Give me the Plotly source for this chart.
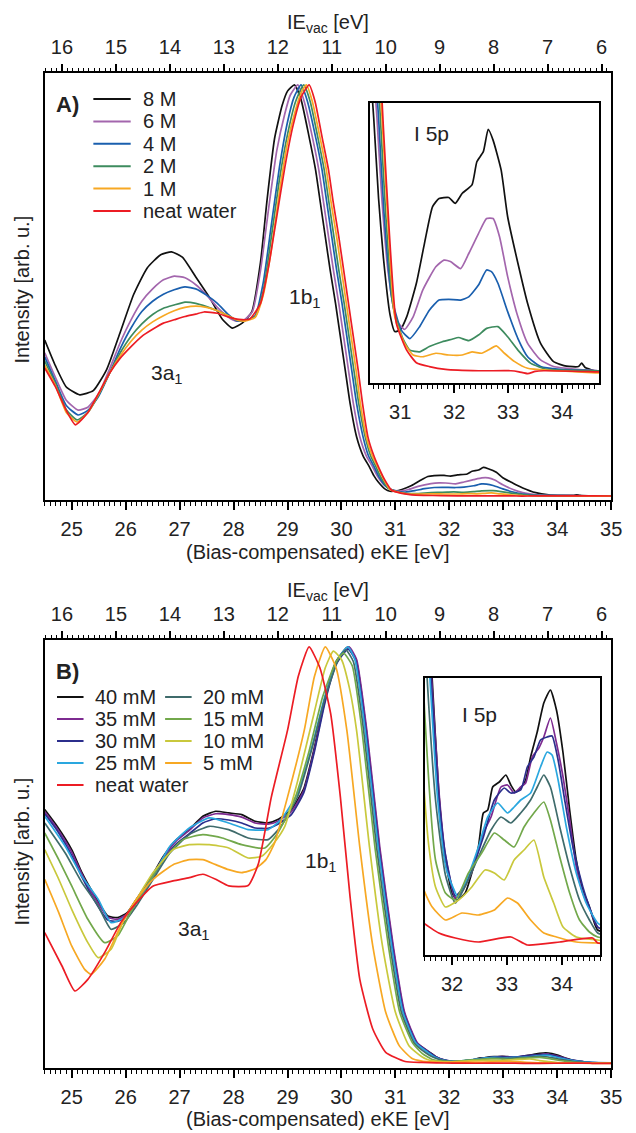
import plotly.graph_objects as go

# ---------------- DATA (eKE [eV], normalized intensity) ----------------
PHOTON_ENERGY = 40.82  # IE_vac = hv - eKE

# Panel A: NaI concentration series
A_8M = [(24.5,.381),(24.7,.318),(24.9,.267),(25.15,.248),(25.4,.258),(25.65,.31),(25.9,.40),(26.15,.492),
        (26.4,.556),(26.65,.588),(26.85,.595),(27.05,.582),(27.3,.534),(27.55,.485),(27.8,.43),(27.98,.41),
        (28.16,.422),(28.34,.45),(28.5,.57),(28.62,.72),(28.76,.87),(28.9,.95),(29.0,.985),(29.13,1.0),
        (29.25,.965),(29.4,.874),(29.52,.794),(29.61,.713),(29.7,.632),(29.79,.551),(29.89,.47),(29.98,.389),
        (30.07,.308),(30.16,.227),(30.28,.146),(30.4,.10),(30.51,.075),(30.6,.052),(30.69,.035),(30.81,.019),
        (30.9,.014),(31.0,.0145),(31.12,.0182),(31.3,.0278),(31.45,.0392),(31.6,.0497),(31.72,.052),(31.9,.0523),
        (32.02,.0506),(32.15,.0535),(32.33,.0559),(32.42,.0625),(32.54,.0654),(32.63,.0718),(32.72,.0687),
        (32.87,.0601),(32.99,.0468),(33.18,.0335),(33.36,.022),(33.6,.0106),(33.84,.0054),(34.08,.0041),
        (34.3,.004),(34.36,.005),(34.42,.0038),(34.66,.0025),(35.0,.002)]
A_6M = [(24.5,.35),(24.7,.29),(24.9,.235),(25.12,.211),(25.3,.218),(25.5,.25),(25.7,.31),(25.9,.375),(26.1,.43),
        (26.3,.475),(26.5,.505),(26.7,.527),(26.9,.536),(27.1,.532),(27.3,.515),(27.5,.49),(27.7,.46),(27.9,.437),
        (28.05,.427),(28.2,.43),(28.35,.45),(28.5,.55),(28.65,.70),(28.8,.84),(28.95,.93),(29.05,.975),(29.19,1.0),
        (29.31,.96),(29.46,.874),(29.58,.794),(29.67,.713),(29.76,.632),(29.85,.551),(29.95,.47),(30.04,.389),
        (30.13,.308),(30.22,.227),(30.34,.146),(30.46,.10),(30.57,.075),(30.66,.052),(30.78,.0306),(30.93,.0173),
        (31.08,.0146),(31.24,.0182),(31.42,.0259),(31.66,.0325),(31.81,.0344),(31.93,.034),(32.12,.032),
        (32.27,.0363),(32.45,.042),(32.6,.0463),(32.72,.0463),(32.84,.0411),(32.99,.0297),(33.18,.0182),
        (33.36,.0106),(33.6,.0059),(33.84,.004),(34.27,.0032),(34.66,.0028),(35.0,.0025)]
A_4M = [(24.5,.34),(24.7,.28),(24.9,.222),(25.12,.199),(25.3,.21),(25.5,.245),(25.7,.30),(25.9,.36),(26.1,.41),
        (26.3,.45),(26.5,.475),(26.7,.492),(26.9,.503),(27.1,.51),(27.3,.505),(27.5,.49),(27.7,.47),(27.9,.443),
        (28.05,.428),(28.2,.428),(28.4,.44),(28.55,.52),(28.7,.66),(28.85,.80),(29.0,.91),(29.12,.97),(29.25,1.0),
        (29.37,.96),(29.52,.874),(29.64,.794),(29.73,.713),(29.82,.632),(29.91,.551),(30.01,.47),(30.1,.389),
        (30.19,.308),(30.28,.227),(30.4,.146),(30.5,.10),(30.6,.075),(30.7,.048),(30.84,.024),(31.02,.0144),
        (31.18,.012),(31.36,.0154),(31.54,.0201),(31.72,.023),(31.9,.0232),(32.12,.023),(32.27,.0239),
        (32.45,.0273),(32.6,.0316),(32.69,.0311),(32.81,.0278),(32.99,.0197),(33.18,.012),(33.36,.0068),
        (33.6,.004),(33.96,.0032),(34.66,.0028),(35.0,.0025)]
A_2M = [(24.5,.33),(24.7,.275),(24.9,.212),(25.1,.187),(25.3,.205),(25.5,.248),(25.7,.30),(25.9,.35),(26.1,.39),
        (26.3,.42),(26.5,.443),(26.7,.458),(26.9,.466),(27.1,.473),(27.3,.47),(27.5,.462),(27.7,.452),(27.9,.44),
        (28.05,.43),(28.2,.428),(28.4,.438),(28.55,.50),(28.7,.63),(28.85,.77),(29.0,.88),(29.15,.96),(29.3,1.0),
        (29.42,.96),(29.56,.874),(29.68,.794),(29.77,.713),(29.86,.632),(29.95,.551),(30.05,.47),(30.14,.389),
        (30.23,.308),(30.32,.227),(30.44,.146),(30.54,.10),(30.63,.076),(30.73,.048),(30.87,.0211),(31.05,.012),
        (31.18,.0087),(31.36,.0082),(31.54,.0097),(31.78,.0111),(31.96,.0118),(32.08,.0123),(32.27,.0114),
        (32.45,.013),(32.6,.0149),(32.81,.0154),(32.99,.0125),(33.18,.0087),(33.42,.0049),(33.72,.0032),
        (34.66,.0028),(35.0,.0025)]
A_1M = [(24.5,.32),(24.7,.27),(24.9,.205),(25.1,.182),(25.3,.205),(25.5,.25),(25.7,.30),(25.9,.343),(26.1,.378),
        (26.3,.405),(26.5,.425),(26.7,.44),(26.9,.452),(27.1,.46),(27.3,.463),(27.5,.46),(27.7,.452),(27.9,.44),
        (28.05,.43),(28.2,.427),(28.4,.436),(28.55,.49),(28.7,.60),(28.85,.74),(29.0,.86),(29.15,.94),(29.25,.98),
        (29.35,1.0),(29.46,.96),(29.6,.874),(29.72,.794),(29.81,.713),(29.91,.632),(30.0,.551),(30.09,.47),
        (30.18,.389),(30.27,.308),(30.35,.227),(30.46,.146),(30.57,.10),(30.66,.076),(30.77,.046),(30.9,.0182),
        (31.08,.0106),(31.24,.0073),(31.42,.0068),(31.66,.0078),(31.9,.0073),(32.15,.0073),(32.33,.0082),
        (32.51,.0078),(32.63,.0087),(32.78,.0099),(32.93,.0078),(33.12,.0054),(33.36,.0035),(34.66,.0022),(35.0,.002)]
A_WATER = [(24.5,.313),(24.7,.267),(24.9,.21),(25.07,.175),(25.3,.205),(25.5,.252),(25.7,.30),(25.9,.337),
           (26.1,.365),(26.3,.39),(26.5,.407),(26.7,.422),(26.9,.43),(27.1,.438),(27.3,.444),(27.45,.449),
           (27.7,.446),(27.9,.437),(28.1,.431),(28.3,.432),(28.5,.47),(28.65,.56),(28.8,.68),(28.95,.80),(29.1,.90),
           (29.25,.97),(29.4,1.0),(29.51,.96),(29.64,.874),(29.76,.794),(29.85,.713),(29.95,.632),(30.04,.551),
           (30.13,.47),(30.22,.389),(30.31,.308),(30.39,.227),(30.49,.146),(30.6,.10),(30.69,.072),(30.8,.042),
           (30.93,.0163),(31.12,.0087),(31.3,.0051),(31.54,.004),(31.84,.0032),(32.45,.0028),(33.05,.0028),
           (33.2,.0025),(33.36,.002),(33.5,.0026),(33.66,.0028),(34.66,.0025),(35.0,.0024)]

A_LABELS = ["8 M", "6 M", "4 M", "2 M", "1 M", "neat water"]
A_COLORS = ["#111111", "#a366ad", "#1a5fae", "#3d8b5e", "#f7a823", "#ec1c24"]

# Panel B: mM concentration series
B_40 = [(24.5,.61),(24.73,.57),(25.0,.514),(25.19,.459),(25.43,.403),(25.67,.355),(25.85,.351),(26.03,.363),
        (26.2,.395),(26.45,.443),(26.7,.498),(26.94,.538),(27.18,.562),(27.43,.594),(27.67,.606),(27.91,.602),
        (28.15,.598),(28.4,.582),(28.64,.578),(28.82,.586),(29.07,.61),(29.3,.66),(29.5,.76),(29.7,.88),
        (29.9,.965),(30.12,1.0),(30.27,.97),(30.46,.80),(30.7,.52),(30.95,.283),(31.16,.124),(31.4,.05),
        (31.64,.028),(31.76,.0167),(31.88,.010),(32.0,.0067),(32.09,.006),(32.24,.0067),(32.36,.0087),
        (32.48,.0113),(32.57,.0147),(32.65,.015),(32.74,.0173),(32.86,.0178),(32.98,.0185),(33.07,.0175),
        (33.16,.0168),(33.25,.0172),(33.34,.018),(33.43,.0203),(33.55,.0228),(33.67,.0257),(33.79,.027),
        (33.9,.025),(34.02,.0207),(34.14,.015),(34.26,.010),(34.38,.007),(34.5,.0053),(34.59,.0037),
        (34.65,.003),(35.0,.0025)]
B_35 = [(24.5,.605),(24.73,.565),(25.0,.508),(25.19,.455),(25.43,.398),(25.67,.352),(25.85,.347),(26.03,.36),
        (26.2,.39),(26.45,.44),(26.7,.495),(26.94,.535),(27.18,.56),(27.43,.59),(27.67,.60),(27.91,.598),
        (28.15,.592),(28.4,.578),(28.64,.575),(28.82,.582),(29.07,.605),(29.3,.655),(29.5,.755),(29.7,.875),
        (29.9,.962),(30.14,1.0),(30.28,.97),(30.47,.80),(30.71,.52),(30.96,.283),(31.17,.124),(31.41,.05),
        (31.63,.028),(31.76,.017),(31.88,.0105),(32.06,.0062),(32.2,.007),(32.36,.0088),(32.57,.0127),
        (32.71,.0143),(32.89,.0173),(33.01,.0175),(33.13,.0167),(33.25,.0173),(33.34,.0177),(33.46,.0203),
        (33.58,.0212),(33.67,.0223),(33.79,.0242),(33.9,.0217),(34.02,.0183),(34.14,.014),(34.26,.0093),
        (34.38,.0067),(34.5,.0052),(34.65,.0033),(35.0,.0026)]
B_30 = [(24.5,.60),(24.73,.56),(25.0,.50),(25.19,.448),(25.43,.39),(25.67,.345),(25.85,.342),(26.03,.355),
        (26.2,.387),(26.45,.437),(26.7,.49),(26.94,.528),(27.18,.552),(27.43,.578),(27.67,.588),(27.91,.585),
        (28.15,.578),(28.4,.566),(28.64,.565),(28.82,.575),(29.07,.598),(29.3,.65),(29.5,.75),(29.7,.87),
        (29.9,.958),(30.12,.995),(30.26,.968),(30.45,.80),(30.69,.52),(30.94,.283),(31.15,.124),(31.39,.05),
        (31.62,.028),(31.75,.017),(31.88,.0105),(32.06,.0064),(32.2,.0072),(32.36,.009),(32.57,.0123),
        (32.77,.016),(32.95,.0172),(33.07,.0167),(33.25,.017),(33.37,.0193),(33.49,.0203),(33.61,.022),
        (33.73,.0223),(33.82,.0224),(33.93,.020),(34.05,.016),(34.2,.0113),(34.38,.0073),(34.5,.0053),
        (34.65,.0033),(35.0,.0026)]
B_25 = [(24.5,.594),(24.88,.522),(25.19,.45),(25.49,.395),(25.73,.339),(25.97,.351),(26.2,.387),(26.51,.451),
        (26.82,.522),(27.18,.566),(27.55,.59),(27.91,.578),(28.27,.562),(28.64,.562),(28.88,.586),(29.19,.65),
        (29.45,.76),(29.7,.885),(29.95,.975),(30.12,1.0),(30.25,.97),(30.44,.80),(30.68,.52),(30.93,.283),
        (31.14,.124),(31.38,.05),(31.6,.028),(31.74,.016),(31.9,.009),(32.12,.0062),(32.3,.0085),(32.48,.0113),
        (32.65,.0143),(32.83,.0157),(33.01,.0147),(33.13,.0153),(33.25,.016),(33.43,.0167),(33.61,.0193),
        (33.73,.0208),(33.82,.0205),(33.93,.018),(34.08,.0133),(34.26,.0087),(34.44,.0057),(34.65,.0037),
        (35.0,.0026)]
B_20 = [(24.5,.578),(24.88,.506),(25.19,.435),(25.49,.379),(25.73,.323),(25.97,.339),(26.2,.379),(26.51,.443),
        (26.82,.506),(27.18,.55),(27.55,.57),(27.91,.562),(28.27,.542),(28.64,.538),(28.88,.57),(29.19,.642),
        (29.45,.755),(29.7,.88),(29.95,.972),(30.08,.993),(30.22,.965),(30.41,.80),(30.65,.52),(30.9,.283),
        (31.11,.124),(31.35,.05),(31.56,.027),(31.7,.016),(31.88,.0085),(32.06,.0057),(32.25,.0075),
        (32.48,.0103),(32.71,.013),(32.89,.0143),(33.07,.0137),(33.25,.0147),(33.43,.016),(33.55,.0173),
        (33.67,.0185),(33.79,.0173),(33.96,.0133),(34.14,.0093),(34.32,.006),(34.5,.004),(34.65,.0027),
        (35.0,.0022)]
B_15 = [(24.5,.554),(24.76,.49),(25.0,.427),(25.3,.347),(25.61,.291),(25.85,.307),(26.09,.363),(26.39,.427),
        (26.7,.49),(27.06,.538),(27.43,.55),(27.79,.542),(28.15,.526),(28.58,.518),(28.82,.554),(29.13,.634),
        (29.4,.75),(29.65,.88),(29.9,.965),(30.04,.985),(30.2,.955),(30.38,.80),(30.62,.52),(30.87,.283),
        (31.08,.124),(31.32,.05),(31.5,.025),(31.7,.010),(31.88,.0067),(32.06,.006),(32.3,.0087),(32.54,.0107),
        (32.77,.0127),(32.95,.012),(33.13,.0113),(33.31,.0133),(33.49,.0147),(33.67,.0158),(33.79,.014),
        (33.96,.0103),(34.14,.0067),(34.32,.004),(34.5,.0028),(34.65,.0023),(35.0,.002)]
B_10 = [(24.5,.514),(24.76,.443),(25.0,.371),(25.3,.291),(25.49,.255),(25.73,.275),(25.97,.347),(26.2,.395),
        (26.51,.459),(26.88,.514),(27.18,.526),(27.55,.526),(27.91,.518),(28.27,.494),(28.52,.498),(28.75,.53),
        (28.95,.57),(29.19,.68),(29.49,.84),(29.7,.95),(29.85,.99),(30.0,.97),(30.15,.90),(30.28,.80),
        (30.52,.52),(30.76,.283),(31.0,.124),(31.25,.044),(31.49,.0173),(31.58,.0113),(31.7,.0073),
        (31.88,.0053),(32.12,.006),(32.36,.0073),(32.6,.009),(32.77,.0087),(32.95,.008),(33.13,.010),
        (33.31,.011),(33.49,.012),(33.67,.0083),(33.85,.0057),(34.02,.0033),(34.26,.0023),(34.65,.002),
        (35.0,.0018)]
B_5 = [(24.5,.443),(24.76,.363),(25.0,.283),(25.24,.227),(25.36,.215),(25.61,.251),(25.91,.331),(26.2,.395),
       (26.51,.443),(26.88,.478),(27.18,.49),(27.43,.49),(27.67,.478),(27.91,.466),(28.15,.459),(28.4,.468),
       (28.6,.49),(28.76,.53),(29.0,.64),(29.31,.80),(29.5,.93),(29.7,1.0),(29.9,.95),(30.1,.80),(30.34,.52),
       (30.58,.283),(30.82,.124),(31.07,.044),(31.3,.014),(31.49,.007),(31.64,.0053),(31.88,.004),(32.18,.0047),
       (32.48,.0045),(32.77,.005),(33.01,.0062),(33.19,.0057),(33.43,.004),(33.67,.0027),(33.9,.0023),
       (34.26,.0018),(34.65,.0017),(35.0,.0016)]
B_WATER = [(24.5,.315),(24.82,.235),(25.06,.175),(25.3,.203),(25.61,.267),(25.91,.339),(26.2,.387),(26.51,.427),
           (26.88,.439),(27.18,.447),(27.43,.455),(27.67,.443),(27.91,.427),(28.27,.428),(28.46,.48),(28.7,.64),
           (29.0,.80),(29.2,.93),(29.4,1.0),(29.6,.95),(29.8,.84),(29.98,.64),(30.16,.40),(30.34,.203),
           (30.58,.084),(30.82,.028),(31.18,.006),(31.49,.0037),(31.76,.0027),(32.06,.0022),(32.48,.0018),
           (33.07,.0023),(33.37,.0015),(33.96,.0018),(34.56,.0022),(34.65,.0017),(35.0,.0017)]

B_LABELS = ["40 mM", "35 mM", "30 mM", "25 mM", "20 mM", "15 mM", "10 mM", "5 mM", "neat water"]
B_COLORS = ["#111111", "#7d2a90", "#2b2e8c", "#2aa7df", "#3f6b6b", "#72a84b", "#c9c83c", "#f7a823", "#ec1c24"]

EKE_RANGE = [24.5, 35.0]
INSET_A_RANGE = [30.45, 34.69]
INSET_B_RANGE = [31.5, 34.7]

# ---------------- FIGURE ----------------
W, H = 636, 1133
FONT = "Liberation Sans, Arial, sans-serif"
TXT = "#222222"

def fx(px):
    return px / W

def fy(py):
    return 1 - py / H

fig = go.Figure()

def add_series(series, color, xa, ya):
    xs = [p[0] for p in series]
    ys = [p[1] for p in series]
    fig.add_trace(go.Scatter(x=xs, y=ys, mode="lines",
                             line=dict(color=color, width=1.7, shape="spline", smoothing=0.5),
                             xaxis=xa, yaxis=ya, showlegend=False, hoverinfo="skip"))

A_SERIES = [A_8M, A_6M, A_4M, A_2M, A_1M, A_WATER]
B_SERIES = [B_40, B_35, B_30, B_25, B_20, B_15, B_10, B_5, B_WATER]

for s, c in zip(A_SERIES, A_COLORS):
    add_series(s, c, "x", "y")
fig.add_trace(go.Scatter(x=[16, 6], y=[None, None], xaxis="x2", yaxis="y", showlegend=False, hoverinfo="skip"))
for s, c in zip(A_SERIES, A_COLORS):
    add_series(s, c, "x3", "y3")
for s, c in zip(B_SERIES, B_COLORS):
    add_series(s, c, "x4", "y4")
fig.add_trace(go.Scatter(x=[16, 6], y=[None, None], xaxis="x5", yaxis="y4", showlegend=False, hoverinfo="skip"))
for s, c in zip(B_SERIES, B_COLORS):
    add_series(s, c, "x6", "y6")

tickfont = dict(family=FONT, size=20, color=TXT)

def xaxis_style(**kw):
    d = dict(showline=True, linecolor="black", linewidth=2, mirror=True, showgrid=False, zeroline=False,
             ticks="outside", tickcolor="black", ticklen=8, tickwidth=1.5, dtick=1, tick0=0,
             minor=dict(ticks="outside", dtick=0.1, ticklen=4, tickwidth=1, tickcolor="black"),
             tickfont=tickfont, ticklabelstandoff=2)
    d.update(kw)
    return d

def yaxis_style(**kw):
    d = dict(showline=True, linecolor="black", linewidth=2, mirror=True, showgrid=False, zeroline=False,
             showticklabels=False, ticks="")
    d.update(kw)
    return d

ie_range_top = [PHOTON_ENERGY - EKE_RANGE[0], PHOTON_ENERGY - EKE_RANGE[1]]

main_x_dom = [fx(45.5), fx(622)]
fig.update_layout(
    xaxis=xaxis_style(domain=main_x_dom, anchor="y", range=EKE_RANGE),
    yaxis=yaxis_style(domain=[fy(500), fy(73)], anchor="x", range=[-0.0073, 1.029]),
    xaxis2=xaxis_style(overlaying="x", anchor="y", side="top", range=ie_range_top, showline=False, mirror=False),
    xaxis3=xaxis_style(domain=[fx(377), fx(610)], anchor="y3", range=INSET_A_RANGE),
    yaxis3=yaxis_style(domain=[fy(383), fy(103)], anchor="x3", range=[-0.0007, 0.0793]),
    xaxis4=xaxis_style(domain=main_x_dom, anchor="y4", range=EKE_RANGE),
    yaxis4=yaxis_style(domain=[fy(1068), fy(640)], anchor="x4", range=[-0.0096, 1.0167]),
    xaxis5=xaxis_style(overlaying="x4", anchor="y4", side="top", range=ie_range_top, showline=False, mirror=False),
    xaxis6=xaxis_style(domain=[fx(432), fx(611)], anchor="y6", range=INSET_B_RANGE),
    yaxis6=yaxis_style(domain=[fy(955), fy(678)], anchor="x6", range=[0.0005, 0.0282]),
)

annotations = []
shapes = []

def text(x, y, s, size=20, anchor="center", bold=False, angle=0):
    annotations.append(dict(xref="paper", yref="paper", x=fx(x), y=fy(y), text=(f"<b>{s}</b>" if bold else s),
                            showarrow=False, xanchor=anchor, yanchor="middle", textangle=angle,
                            font=dict(family=FONT, size=size, color=TXT)))

# axis titles
text(334, 24, "IE<sub>vac</sub> [eV]")
text(323, 552, "(Bias-compensated) eKE [eV]")
text(22, 290, "Intensity [arb. u.]", angle=-90)
text(334, 591, "IE<sub>vac</sub> [eV]")
text(323, 1119, "(Bias-compensated) eKE [eV]")
text(22, 852, "Intensity [arb. u.]", angle=-90)

# panel labels and peak labels
text(55, 104, "A)", size=22, anchor="left", bold=True)
text(55, 672, "B)", size=22, anchor="left", bold=True)
text(170, 374, "3a<sub>1</sub>", size=21)
text(310, 298, "1b<sub>1</sub>", size=21)
text(197, 930, "3a<sub>1</sub>", size=21)
text(327, 862, "1b<sub>1</sub>", size=21)
text(439, 133, "I 5p", size=21)
text(488, 714, "I 5p", size=21)

# legends (line keys + labels)
def legend_item(x0, x1, y, color, label):
    shapes.append(dict(type="line", xref="paper", yref="paper", x0=fx(x0), x1=fx(x1), y0=fy(y), y1=fy(y),
                       line=dict(color=color, width=2)))
    text(x1 + 10, y, label, anchor="left")

for i, (lab, col) in enumerate(zip(A_LABELS, A_COLORS)):
    legend_item(95, 133, 99 + i * 22.4, col, lab)

for i, (lab, col) in enumerate(zip(B_LABELS, B_COLORS)):
    if lab == "neat water":
        legend_item(58, 85, 697 + 4 * 22, col, lab)
    elif i < 4:
        legend_item(58, 85, 697 + i * 22, col, lab)
    else:
        legend_item(168, 195, 697 + (i - 4) * 22, col, lab)

fig.update_layout(
    width=W, height=H, margin=dict(l=0, r=0, t=0, b=0),
    paper_bgcolor="white", plot_bgcolor="white",
    showlegend=False, hovermode=False,
    annotations=annotations, shapes=shapes,
)

fig.write_html("out.html", config={"displayModeBar": False},
               post_script="document.body.style.margin='0';document.body.style.overflow='hidden';")
